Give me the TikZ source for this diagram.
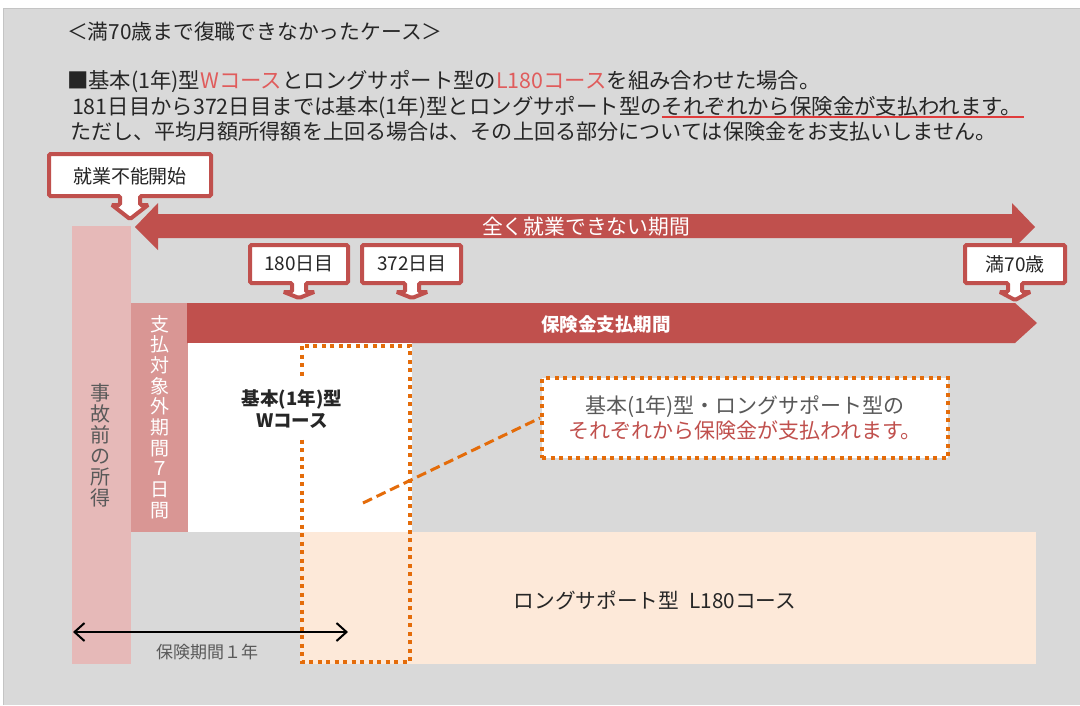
\documentclass[tikz,border=0pt]{standalone}
\usepackage{fontspec}
\setmainfont{Noto Sans CJK JP}
\usetikzlibrary{arrows.meta}
\definecolor{bgc}{HTML}{D9D9D9}
\definecolor{bgline}{HTML}{C4C4C4}
\definecolor{darkred}{HTML}{C0504D}
\definecolor{pinkc}{HTML}{E6B9B8}
\definecolor{exclc}{HTML}{D99694}
\definecolor{peach}{HTML}{FDE9D9}
\definecolor{orng}{HTML}{E46C0A}
\definecolor{lred}{HTML}{E05C5C}
\definecolor{uline}{HTML}{E03C3C}
\definecolor{txt}{HTML}{262626}
\definecolor{gtxt}{HTML}{595959}
\newcommand\myfs[2]{\fontsize{#1}{#2}\selectfont}
\tikzset{
  lbl/.style={inner sep=0pt, outer sep=0pt, text=txt},
  callout/.style={draw=darkred, line width=4pt, fill=white, rounded corners=1.5pt},
  redbar/.style={fill=darkred},
  dotbox/.style={draw=orng, line width=4pt, dash pattern=on 4pt off 4.5pt},
  leader/.style={draw=orng, line width=3pt, dash pattern=on 10pt off 5pt},
}
\begin{document}
\begin{tikzpicture}[x=1pt,y=-1pt]
\useasboundingbox (0,0) rectangle (1080,705);
% background
\fill[white] (0,0) rectangle (1080,705);
\fill[bgc] (3,8) rectangle (1080,705);
\draw[bgline, line width=1pt] (3,705) -- (3,8) -- (1080,8);

% header texts
\node[lbl, anchor=west, font=\myfs{20.8}{24}] (title) at (67,32) {＜満70歳まで復職できなかったケース＞};
\node[lbl, anchor=base west, font=\myfs{21.4}{24}] (line2) at (67,88) {■基本(1年)型\textcolor{lred}{Wコース}とロングサポート型の\textcolor{lred}{L180コース}を組み合わせた場合。};
\node[lbl, anchor=base west, font=\myfs{21.4}{24}] (line3) at (72,114) {181日目から372日目までは基本(1年)型とロングサポート型の};
\node[lbl, anchor=base west, font=\myfs{21.4}{24}] (line3b) at (line3.base east) {それぞれから保険金が支払われます。};
\draw[uline, line width=1.5pt] ([yshift=-3pt]line3b.base west) -- ([xshift=2pt,yshift=-3pt]line3b.base east);
\node[lbl, anchor=base west, font=\myfs{21.1}{24}] (line4) at (70,139) {ただし、平均月額所得額を上回る場合は、その上回る部分については保険金をお支払いしません。};

% columns
\fill[pinkc] (72,226) rectangle (131,664);
\node[lbl, text=gtxt, align=center, font=\myfs{20}{21}] (income) at (100,445) {事\\故\\前\\の\\所\\得};
\fill[exclc] (131,303) rectangle (188,532);
\node[lbl, text=white, align=center, font=\myfs{19}{20.7}] (excl) at (160,417) {支\\払\\対\\象\\外\\期\\間\\７\\日\\間};

% big double arrow
\fill[redbar] (135,227) -- (158,203) -- (158,214) -- (1012,214) -- (1012,203) -- (1035,227) -- (1012,250) -- (1012,238) -- (158,238) -- (158,250) -- cycle;
\node[lbl, text=white, font=\myfs{20.8}{22}] (nowork) at (586,227) {全く就業できない期間};

% payment bar
\fill[redbar] (187,303) -- (1015,303) -- (1037,323) -- (1015,343) -- (187,343) -- cycle;
\node[lbl, text=white, font=\bfseries\myfs{18.5}{20}] (paylbl) at (606,324) {保険金支払期間};

% callouts
\draw[callout] (49,154) -- (211,154) -- (211,196) -- (140,196) -- (140,205) -- (148,205) -- (130,219) -- (112,205) -- (120,205) -- (120,196) -- (49,196) -- cycle;
\node[lbl, font=\myfs{19}{20}] (start) at (130,176) {就業不能開始};

\draw[callout] (250,245) -- (348,245) -- (348,283) -- (306,283) -- (306,292) -- (314,292) -- (299,298) -- (284,292) -- (292,292) -- (292,283) -- (250,283) -- cycle;
\node[lbl, font=\myfs{19}{20}] (d180) at (299,264) {180日目};

\draw[callout] (362,245) -- (461,245) -- (461,283) -- (419,283) -- (419,292) -- (427,292) -- (412,298) -- (397,292) -- (405,292) -- (405,283) -- (362,283) -- cycle;
\node[lbl, font=\myfs{19}{20}] (d372) at (412,264) {372日目};

\draw[callout] (965,245) -- (1065,245) -- (1065,283) -- (1022,283) -- (1022,292) -- (1030,292) -- (1015,300) -- (1000,292) -- (1008,292) -- (1008,283) -- (965,283) -- cycle;
\node[lbl, font=\myfs{19}{20}] (age70) at (1015,264) {満70歳};

% course areas
\fill[white] (188,343) rectangle (412,532);
\fill[peach] (300,532) rectangle (1036,664);
\node[lbl, font=\myfs{20.7}{22}] (lcourse) at (655,600) {ロングサポート型\hspace{0.5em}L180コース};
\draw[dotbox] (302,346) rectangle (410,662);
\node[lbl, fill=white, inner xsep=4pt, inner ysep=10pt, align=center, text=txt, font=\bfseries\myfs{18.5}{22}] (wcourse) at (292,409) {基本(1年)型\\Wコース};

% leader and note
\coordinate (lead) at (363,503);
\node[draw=orng, line width=4pt, dash pattern=on 4pt off 4.5pt, fill=white, minimum width=406pt, minimum height=80pt, inner sep=0pt, align=center, text=gtxt, font=\myfs{21}{25}] (note) at (745,418) {基本(1年)型・ロングサポート型の\\\textcolor{darkred}{それぞれから保険金が支払われます。}};
\draw[leader] (lead) -- (note.west);

% insurance period arrow
\coordinate (pa) at (73,632);
\coordinate (pb) at (348,632);
\draw[black, line width=2pt, {Straight Barb[length=10pt,width=18pt]}-{Straight Barb[length=10pt,width=18pt]}] (pa) -- (pb);
\node[lbl, text=gtxt, font=\myfs{17}{18}] (span) at (207,652) {保険期間１年};
\end{tikzpicture}
\end{document}
